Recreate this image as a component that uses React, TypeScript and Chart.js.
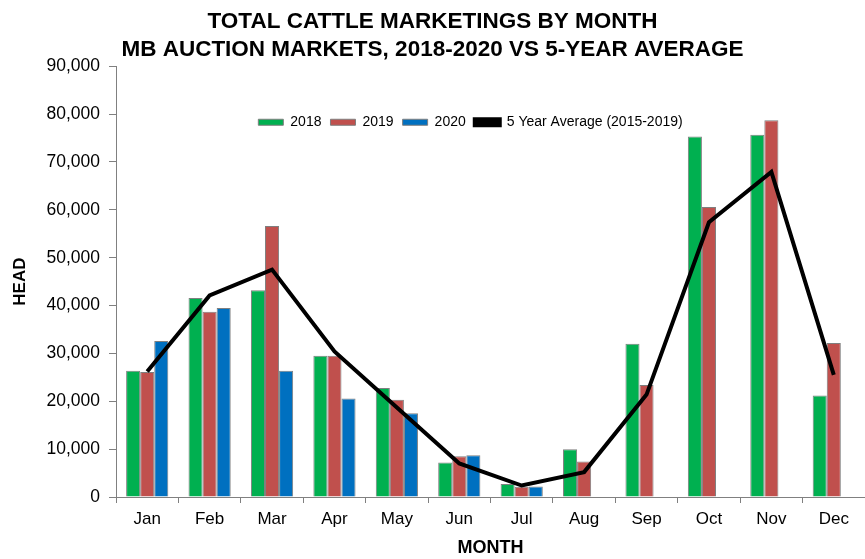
import React, { useEffect, useRef } from "react";
import { Chart, registerables } from "chart.js";

Chart.register(...registerables);

const months = ["Jan", "Feb", "Mar", "Apr", "May", "Jun", "Jul", "Aug", "Sep", "Oct", "Nov", "Dec"];
const y2018 = [26400, 41600, 43200, 29500, 22800, 7200, 2700, 10000, 32000, 75300, 75700, 21200];
const y2019 = [26100, 38700, 56600, 29500, 20300, 8500, 2150, 7400, 23400, 60600, 78700, 32200];
const y2020 = [32600, 39500, 26400, 20600, 17500, 8700, 2200, null, null, null, null, null];
const avg5 = [26200, 42100, 47500, 30400, 18700, 7000, 2400, 5200, 21400, 57400, 67900, 25500];
const titleLines = ["TOTAL CATTLE MARKETINGS BY MONTH", "MB AUCTION MARKETS, 2018-2020 VS 5-YEAR AVERAGE"];

const SANS = "'Liberation Sans', Arial, sans-serif";

const placeBlocks = {
  id: "placeBlocks",
  beforeLayout(chart: any) {
    const lg = chart.legend;
    if (lg && !lg.__patched) {
      const origFit = lg.fit.bind(lg);
      lg.fit = function () {
        origFit();
        this.__h = this.height;
        this.height = 0;
      };
      lg.__patched = true;
    }
  },
  afterLayout(chart: any) {
    const W = chart.width;
    const tb = chart.titleBlock;
    if (tb) {
      tb.left = 0;
      tb.right = W;
      tb.width = W;
    }
    const lg = chart.legend;
    if (lg) {
      const ca = chart.chartArea;
      const dx = 38;
      const h = lg.__h || 30;
      lg.left = dx;
      lg.right = W + dx;
      lg.width = W;
      lg.top = ca.top + 40;
      lg.bottom = lg.top + h;
      lg.height = h;
    }
  },
};

export default function App() {
  const ref = useRef<HTMLCanvasElement | null>(null);
  useEffect(() => {
    if (!ref.current) return;
    const border = "#7f7f7f";
    const chart = new Chart(ref.current, {
      type: "bar",
      data: {
        labels: months,
        datasets: [
          { label: "2018", data: y2018, backgroundColor: "#00B050", borderColor: border, borderWidth: 1 },
          { label: "2019", data: y2019, backgroundColor: "#C0504D", borderColor: border, borderWidth: 1 },
          { label: "2020", data: y2020 as any, backgroundColor: "#0070C0", borderColor: border, borderWidth: 1 },
          {
            type: "line" as any,
            label: "5 Year Average (2015-2019)",
            data: avg5,
            borderColor: "#000000",
            backgroundColor: "#000000",
            borderWidth: 4,
            pointRadius: 0,
            tension: 0,
            order: -1,
          } as any,
        ],
      },
      options: {
        responsive: false,
        animation: false,
        events: [],
        layout: { padding: { left: 0, right: -13, top: 0, bottom: 0 } },
        datasets: { bar: { categoryPercentage: 0.676, barPercentage: 1 } },
        plugins: {
          tooltip: { enabled: false },
          title: {
            display: true,
            text: titleLines,
            color: "#000",
            font: { family: SANS, size: 22.5, weight: "bold", lineHeight: 1.25 },
            padding: { top: 8, bottom: 2 },
          },
          legend: {
            display: true,
            position: "top",
            labels: {
              color: "#000",
              font: { family: SANS, size: 14 },
              boxWidth: 25,
              boxHeight: 6,
              padding: 9,
              sort: (a: any, b: any) => a.datasetIndex - b.datasetIndex,
            },
          },
        },
        scales: {
          x: {
            offset: true,
            grid: { display: true, drawOnChartArea: false, drawTicks: true, tickLength: 6, color: "#808080", offset: true },
            border: { display: true, color: "#808080", width: 1 },
            ticks: { color: "#000", font: { family: SANS, size: 17 }, padding: 6, maxRotation: 0 },
            title: {
              display: true,
              text: "MONTH",
              color: "#000",
              font: { family: SANS, size: 18, weight: "bold", lineHeight: 1.2 },
              padding: { top: 0, bottom: 0 },
            },
            afterFit: (s: any) => {
              s.height = 62;
            },
          },
          y: {
            min: 0,
            max: 90000,
            grid: { display: true, drawOnChartArea: false, drawTicks: true, tickLength: 7, color: "#808080" },
            border: { display: true, color: "#808080", width: 1 },
            ticks: {
              stepSize: 10000,
              color: "#000",
              font: { family: SANS, size: 17.5 },
              padding: 9,
              callback: (v: any) => Number(v).toLocaleString("en-US"),
            },
            title: {
              display: true,
              text: "HEAD",
              color: "#000",
              font: { family: SANS, size: 17, weight: "bold", lineHeight: 1.2 },
              padding: { top: 10, bottom: 0 },
            },
            afterFit: (s: any) => {
              s.width = 116;
            },
          },
        },
      },
      plugins: [placeBlocks],
    });
    return () => chart.destroy();
  }, []);
  return (
    <div style={{ position: "fixed", left: 0, top: 0, width: 865, height: 559, background: "#fff" }}>
      <canvas ref={ref} width={865} height={559} style={{ display: "block", width: 865, height: 559 }} />
    </div>
  );
}
